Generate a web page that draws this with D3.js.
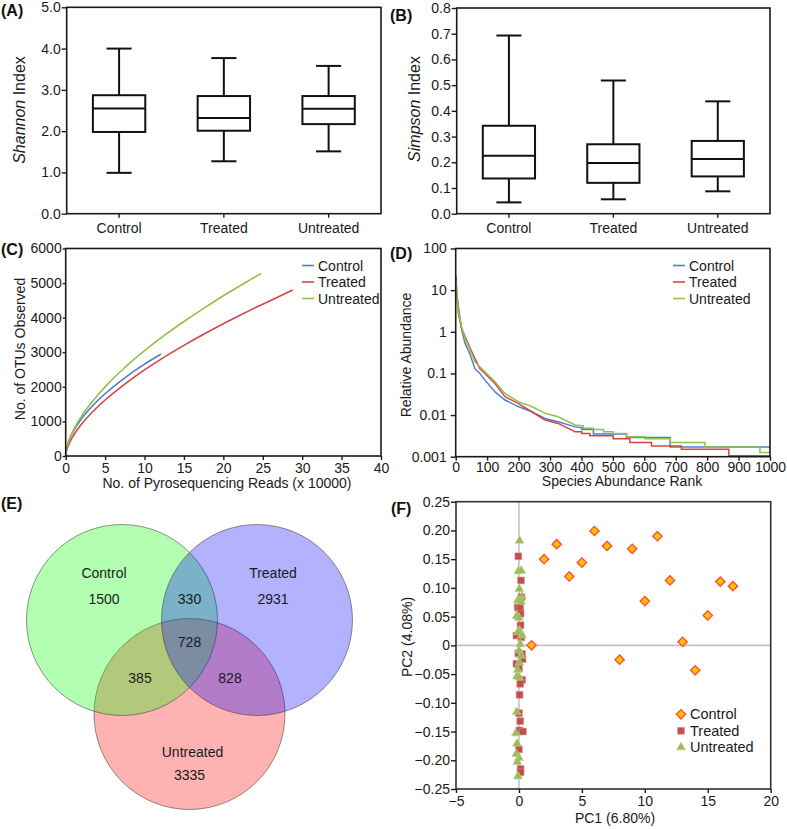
<!DOCTYPE html>
<html>
<head>
<meta charset="utf-8">
<script src="https://cdn.jsdelivr.net/npm/d3@7"></script>
<style>
  body { margin: 0; background: #fff; }
  svg { font-family: "Liberation Sans", Arial, sans-serif; }
  .frame { fill: none; stroke: #1a1a1a; stroke-width: 1.6; }
  .axis path { display: none; }
  .axis line { stroke: #1a1a1a; stroke-width: 1.4; }
  .axis text { font-size: 14px; fill: #1a1a1a; }
  .lbl { font-size: 14px; fill: #1a1a1a; }
  .panel { font-size: 16px; font-weight: bold; fill: #111; }
  .box { fill: none; stroke: #111; stroke-width: 2; }
</style>
</head>
<body>
<svg id="fig" width="787" height="829"></svg>
<script>
/* ---------- data ---------- */
const groups = ["Control", "Treated", "Untreated"];
const groupColors = ["#4a7fd0", "#d64545", "#93c047"];

// (A) Shannon index, box stats per group
const shannonMin = [0.99, 1.27, 1.51];
const shannonQ1  = [1.98, 2.01, 2.17];
const shannonMed = [2.55, 2.32, 2.54];
const shannonQ3  = [2.87, 2.85, 2.85];
const shannonMax = [4.00, 3.77, 3.58];
const shannonTicks = [0, 1, 2, 3, 4, 5];

// (B) Simpson index
const simpsonMin = [0.044, 0.056, 0.087];
const simpsonQ1  = [0.137, 0.120, 0.145];
const simpsonMed = [0.225, 0.197, 0.213];
const simpsonQ3  = [0.342, 0.270, 0.283];
const simpsonMax = [0.693, 0.518, 0.437];
const simpsonTicks = [0, 0.1, 0.2, 0.3, 0.4, 0.5, 0.6, 0.7, 0.8];

// (C) rarefaction curves [reads x10000, OTUs]
const rareControl = [[0,0],[0.1,190],[0.25,335],[0.5,495],[1,730],[2,1075],[3,1350],[4,1590],[5,1800],[7.5,2260],[10,2655],[12.1,2950]];
const rareTreated = [[0,0],[0.1,150],[0.25,255],[0.5,390],[1,600],[2,920],[3,1180],[4,1410],[5,1620],[7.5,2080],[10,2490],[12.5,2860],[15,3200],[17.5,3520],[20,3825],[22.5,4115],[25,4390],[28.8,4800]];
const rareUntreated = [[0,0],[0.1,195],[0.25,325],[0.5,495],[1,755],[2,1150],[3,1465],[4,1745],[5,2000],[7.5,2560],[10,3045],[12.5,3485],[15,3890],[17.5,4270],[20,4635],[22.5,4975],[24.8,5280]];
const rareXTicks = [0, 5, 10, 15, 20, 25, 30, 35, 40];
const rareYTicks = [0, 1000, 2000, 3000, 4000, 5000, 6000];

// (D) rank abundance [rank, relative abundance %]
const rankControl = [[1,22],[3,9],[10,3.3],[19,1.1],[30,0.52],[46,0.28],[61,0.13],[77,0.1],[93,0.069],[125,0.036],[157,0.023],[199,0.016],[242,0.012],[284,0.0083],[326,0.0069],[380,0.0052],[401,0.0050],[401,0.0045],[438,0.0045],[438,0.0035],[543,0.0035],[543,0.0029],[682,0.0029],[682,0.0017],[1000,0.0017]];
const rankTreated = [[1,13],[4,7],[8.5,2.75],[19,1.2],[30,0.76],[46,0.4],[61,0.23],[77,0.13],[93,0.1],[125,0.057],[157,0.0275],[199,0.019],[242,0.012],[284,0.0076],[326,0.0063],[380,0.0040],[401,0.0040],[401,0.0036],[427,0.0036],[427,0.0032],[501,0.0032],[501,0.0027],[554,0.0027],[554,0.0022],[623,0.0022],[623,0.0018],[718,0.0018],[718,0.0015],[869,0.0015],[869,0.00105],[1000,0.00105]];
const rankUntreated = [[1,16],[4,8],[8.5,3.0],[19,1.3],[30,0.69],[46,0.36],[61,0.19],[77,0.145],[93,0.11],[125,0.063],[157,0.033],[199,0.021],[242,0.016],[284,0.011],[326,0.0091],[380,0.0058],[406,0.0055],[406,0.0048],[438,0.0048],[438,0.0045],[470,0.0045],[470,0.0040],[501,0.0040],[501,0.0036],[544,0.0036],[544,0.0030],[602,0.0030],[602,0.0027],[682,0.0027],[682,0.0022],[793,0.0022],[793,0.0017],[968,0.0017],[968,0.00126],[1000,0.00126]];
const rankXTicks = [0, 100, 200, 300, 400, 500, 600, 700, 800, 900, 1000];
const rankYTicks = [0.001, 0.01, 0.1, 1, 10, 100];

// (E) Venn counts
const vennOnly   = [1500, 2931, 3335];   // Control, Treated, Untreated
const vennCT = 330, vennCU = 385, vennTU = 828, vennAll = 728;
const vennFills = ["rgba(0,255,0,0.3)", "rgba(0,0,255,0.3)", "rgba(255,0,0,0.3)"];

// (F) PCoA
const controlPC1 = [1, 2, 3, 4, 5, 6, 7, 8, 9, 10, 11, 12, 13, 14, 15, 16, 17];
const controlPC2 = [0.0, 0.150, 0.176, 0.120, 0.144, 0.199, 0.173, -0.025, 0.168, 0.077, 0.190, 0.113, 0.006, -0.0435, 0.052, 0.111, 0.103];
const treatedPC1 = [-0.05, 0.16, 0.21, -0.1, 0.1, 0.13, 0.13, -0.2, 0.18, -0.05, 0.24, 0.29, -0.2, 0, 0.26, 0.1, 0.05, 0, 0.1, 0.03, 0.32, 0, 0.13, 0.13];
const treatedPC2 = [0.155, 0.113, 0.084, 0.066, 0.065, 0.055, 0.035, 0.017, 0.014, -0.014, -0.015, -0.024, -0.032, -0.040, -0.060, -0.067, -0.086, -0.118, -0.132, -0.148, -0.150, -0.181, -0.215, -0.221];
const untreatedPC1 = [0.05, -0.05, 0.18, 0.03, -0.1, 0.24, 0.16, -0.18, 0, 0.05, -0.08, 0.24, 0.1, 0, 0.18, 0.03, -0.1, -0.16, 0.03, -0.18, -0.24, -0.16, -0.21, 0, -0.13, -0.08];
const untreatedPC2 = [0.182, 0.129, 0.130, 0.098, 0.078, 0.085, 0.076, 0.051, 0.048, 0.026, 0.023, 0.017, 0.002, -0.009, -0.018, -0.030, -0.043, -0.054, -0.056, -0.116, -0.153, -0.171, -0.189, -0.196, -0.203, -0.228];
const pcXTicks = [-5, 0, 5, 10, 15, 20];
const pcYTicks = [-0.25, -0.20, -0.15, -0.10, -0.05, 0, 0.05, 0.10, 0.15, 0.20, 0.25];

/* ---------- helpers ---------- */
const svg = d3.select("#fig");

function frame(x, y) {
  const [x0, x1] = x.range(), [y1, y0] = y.range();
  svg.append("rect").attr("class", "frame")
    .attr("x", x0).attr("y", y0).attr("width", x1 - x0).attr("height", y1 - y0);
}
function panelLabel(text, x, y) {
  svg.append("text").attr("class", "panel").attr("x", x).attr("y", y).text(text);
}
function yLabel(x, y, parts, size) {
  const t = svg.append("text").attr("class", "lbl")
    .attr("transform", `translate(${x},${y}) rotate(-90)`)
    .attr("text-anchor", "middle").style("font-size", size + "px");
  parts.forEach(p => t.append("tspan").style("font-style", p.italic ? "italic" : null).text(p.t));
}
function xLabel(x, y, text) {
  svg.append("text").attr("class", "lbl").attr("x", x).attr("y", y)
    .attr("text-anchor", "middle").text(text);
}

function boxPanel(x, y, mins, q1, med, q3, maxs, ticks) {
  const g = svg.append("g");
  const bw = x.bandwidth() * 0.5, cw = x.bandwidth() * 0.24;
  groups.forEach((grp, i) => {
    const cx = x(grp) + x.bandwidth() / 2;
    g.append("line").attr("class", "box").attr("x1", cx).attr("x2", cx).attr("y1", y(maxs[i])).attr("y2", y(q3[i]));
    g.append("line").attr("class", "box").attr("x1", cx).attr("x2", cx).attr("y1", y(q1[i])).attr("y2", y(mins[i]));
    g.append("line").attr("class", "box").attr("x1", cx - cw / 2).attr("x2", cx + cw / 2).attr("y1", y(maxs[i])).attr("y2", y(maxs[i]));
    g.append("line").attr("class", "box").attr("x1", cx - cw / 2).attr("x2", cx + cw / 2).attr("y1", y(mins[i])).attr("y2", y(mins[i]));
    g.append("rect").attr("class", "box").attr("x", cx - bw / 2).attr("y", y(q3[i]))
      .attr("width", bw).attr("height", y(q1[i]) - y(q3[i]));
    g.append("line").attr("class", "box").attr("x1", cx - bw / 2).attr("x2", cx + bw / 2).attr("y1", y(med[i])).attr("y2", y(med[i]));
  });
  frame(x, y);
  svg.append("g").attr("class", "axis").attr("transform", `translate(${x.range()[0]},0)`)
    .call(d3.axisLeft(y).tickValues(ticks).tickFormat(d3.format(".1f")).tickSize(5).tickPadding(1));
  svg.append("g").attr("class", "axis").attr("transform", `translate(0,${y.range()[0]})`)
    .call(d3.axisBottom(x).tickSize(4).tickPadding(5));
}

function legend(x, y, colors) {
  groups.forEach((grp, i) => {
    const yy = y + i * 16.5;
    svg.append("line").attr("x1", x).attr("x2", x + 12).attr("y1", yy).attr("y2", yy)
      .attr("stroke", colors[i]).attr("stroke-width", 1.6);
    svg.append("text").attr("class", "lbl").attr("x", x + 16).attr("y", yy + 5).text(grp);
  });
}

/* ---------- (A) ---------- */
const xA = d3.scaleBand().domain(groups).range([66.7, 381]);
const yA = d3.scaleLinear().domain([0, 5]).range([213.7, 7.3]);
boxPanel(xA, yA, shannonMin, shannonQ1, shannonMed, shannonQ3, shannonMax, shannonTicks);
panelLabel("(A)", 1, 16);
yLabel(25, 110, [{t: "Shannon", italic: true}, {t: " Index"}], 16);

/* ---------- (B) ---------- */
const xB = d3.scaleBand().domain(groups).range([456.7, 770]);
const yB = d3.scaleLinear().domain([0, 0.8]).range([213.7, 8]);
boxPanel(xB, yB, simpsonMin, simpsonQ1, simpsonMed, simpsonQ3, simpsonMax, simpsonTicks);
panelLabel("(B)", 390, 21);
yLabel(420, 109, [{t: "Simpson", italic: true}, {t: " Index"}], 16);

/* ---------- (C) ---------- */
const xC = d3.scaleLinear().domain([0, 40]).range([65.7, 381]);
const yC = d3.scaleLinear().domain([0, 6000]).range([456, 248.5]);
const lineC = d3.line().x(d => xC(d[0])).y(d => yC(d[1])).curve(d3.curveMonotoneX);
[rareControl, rareTreated, rareUntreated].forEach((s, i) => {
  svg.append("path").attr("d", lineC(s)).attr("fill", "none")
    .attr("stroke", groupColors[i]).attr("stroke-width", 1.6);
});
frame(xC, yC);
svg.append("g").attr("class", "axis").attr("transform", "translate(65.7,0)")
  .call(d3.axisLeft(yC).tickValues(rareYTicks).tickFormat(d3.format("d")).tickSize(3).tickPadding(1));
svg.append("g").attr("class", "axis").attr("transform", "translate(0,456)")
  .call(d3.axisBottom(xC).tickValues(rareXTicks).tickFormat(d3.format("d")).tickSize(4).tickPadding(3));
legend(302, 265.5, groupColors);
panelLabel("(C)", 1, 255);
yLabel(25, 349, [{t: "No. of OTUs Observed"}], 14);
xLabel(227, 487.5, "No. of Pyrosequencing Reads (x 10000)");

/* ---------- (D) ---------- */
const xD = d3.scaleLinear().domain([0, 1000]).range([455.7, 770]);
const yD = d3.scaleLog().domain([0.001, 100]).range([456.7, 248.5]);
const lineD = d3.line().x(d => xD(d[0])).y(d => yD(d[1]));
[rankControl, rankTreated, rankUntreated].forEach((s, i) => {
  svg.append("path").attr("d", lineD(s)).attr("fill", "none")
    .attr("stroke", groupColors[i]).attr("stroke-width", 1.5);
});
frame(xD, yD);
svg.append("g").attr("class", "axis").attr("transform", "translate(455.7,0)")
  .call(d3.axisLeft(yD).tickValues(rankYTicks).tickFormat(d => d >= 1 ? d3.format("d")(d) : String(d)).tickSize(5).tickPadding(4));
svg.append("g").attr("class", "axis").attr("transform", "translate(0,456.7)")
  .call(d3.axisBottom(xD).tickValues(rankXTicks).tickFormat(d3.format("d")).tickSize(4).tickPadding(1));
legend(673, 265.5, groupColors);
panelLabel("(D)", 390, 259);
yLabel(411, 355, [{t: "Relative Abundance"}], 14);
xLabel(622, 486, "Species Abundance Rank");

/* ---------- (E) Venn ---------- */
panelLabel("(E)", 1, 509);
const venn = { cx: 189.5, cy: 651, r: 95.5, dx: 67.5, dyTop: -31, dyBot: 63 };
const vennCenters = [
  [venn.cx - venn.dx, venn.cy + venn.dyTop],
  [venn.cx + venn.dx, venn.cy + venn.dyTop],
  [venn.cx, venn.cy + venn.dyBot]
];
// draw order: Untreated, Control, Treated (gives the blend colours of the original)
const vennOrder = [2, 0, 1];
svg.append("g").selectAll("circle").data(vennOrder).join("circle")
  .attr("cx", i => vennCenters[i][0]).attr("cy", i => vennCenters[i][1]).attr("r", venn.r)
  .attr("fill", i => vennFills[i]).attr("stroke", "rgba(60,60,60,0.55)").attr("stroke-width", 1);
const vt = svg.append("g").attr("class", "lbl").attr("text-anchor", "middle").style("font-size", "14px");
function vtext(x, y, s) { vt.append("text").attr("x", x).attr("y", y).text(s); }
vtext(vennCenters[0][0] - 18, 578, groups[0]); vtext(vennCenters[0][0] - 18, 604, vennOnly[0]);
vtext(vennCenters[1][0] + 16, 578, groups[1]); vtext(vennCenters[1][0] + 16, 604, vennOnly[1]);
vtext(vennCenters[2][0] + 3, 757, groups[2]); vtext(vennCenters[2][0], 780, vennOnly[2]);
vtext(venn.cx, 604, vennCT);
vtext(venn.cx, 647, vennAll);
vtext(140, 683, vennCU);
vtext(230, 683, vennTU);

/* ---------- (F) PCoA ---------- */
const xF = d3.scaleLinear().domain([-5, 20]).range([456, 770.7]);
const yF = d3.scaleLinear().domain([-0.25, 0.25]).range([789, 501.7]);
svg.append("line").attr("x1", xF(0)).attr("x2", xF(0)).attr("y1", yF(0.25)).attr("y2", yF(-0.25))
  .attr("stroke", "#c4c4c4").attr("stroke-width", 1.6);
svg.append("line").attr("x1", xF(-5)).attr("x2", xF(20)).attr("y1", yF(0)).attr("y2", yF(0))
  .attr("stroke", "#c4c4c4").attr("stroke-width", 1.6);

const tri = d3.symbol().type(d3.symbolTriangle).size(34)();
const sq = d3.symbol().type(d3.symbolSquare).size(46)();
const dia = d3.symbol().type(d3.symbolSquare).size(44)();
const gF = svg.append("g");
gF.selectAll(".tr").data(d3.range(treatedPC1.length)).join("path")
  .attr("d", sq).attr("transform", i => `translate(${xF(treatedPC1[i])},${yF(treatedPC2[i])})`)
  .attr("fill", "#c0504d").attr("stroke", "#d88a88").attr("stroke-width", 0.6);
gF.selectAll(".un").data(d3.range(untreatedPC1.length)).join("path")
  .attr("d", tri).attr("transform", i => `translate(${xF(untreatedPC1[i])},${yF(untreatedPC2[i])})`)
  .attr("fill", "#9bbb59").attr("stroke", "#b9d08a").attr("stroke-width", 0.6);
gF.selectAll(".ct").data(d3.range(controlPC1.length)).join("path")
  .attr("d", dia).attr("transform", i => `translate(${xF(controlPC1[i])},${yF(controlPC2[i])}) rotate(45)`)
  .attr("fill", "#ffc000").attr("stroke", "#ff4a3a").attr("stroke-width", 1.3);

svg.append("rect").attr("x", 456).attr("y", 501.7).attr("width", 314.7).attr("height", 287.3)
  .attr("fill", "none").attr("stroke", "#333").attr("stroke-width", 1.6);
svg.append("g").attr("class", "axis").attr("transform", "translate(456,0)")
  .call(d3.axisLeft(yF).tickValues(pcYTicks).tickFormat(d => d === 0 ? "0" : d3.format(".2f")(d)).tickSize(5).tickPadding(1));
svg.append("g").attr("class", "axis").attr("transform", "translate(0,789)")
  .call(d3.axisBottom(xF).tickValues(pcXTicks).tickSize(4).tickPadding(3));

// legend
const legF = [[dia, "#ffc000", "#ff4a3a", 45], [sq, "#c0504d", "#d88a88", 0], [tri, "#9bbb59", "#b9d08a", 0]];
groups.forEach((grp, i) => {
  const yy = 714.3 + i * 16.5;
  svg.append("path").attr("d", legF[i][0]).attr("transform", `translate(681,${yy}) rotate(${legF[i][3]})`)
    .attr("fill", legF[i][1]).attr("stroke", legF[i][2]).attr("stroke-width", i === 0 ? 1.3 : 0.6);
  svg.append("text").attr("class", "lbl").attr("x", 690).attr("y", yy + 5).style("font-size", "14.5px").text(grp);
});
panelLabel("(F)", 391, 514);
yLabel(412, 637, [{t: "PC2 (4.08%)"}], 14);
xLabel(615, 823, "PC1 (6.80%)");
</script>
</body>
</html>
